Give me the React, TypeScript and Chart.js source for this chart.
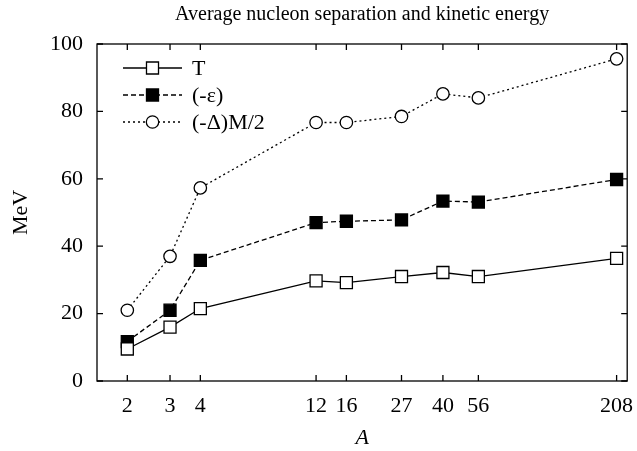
import React, { useEffect, useRef } from "react";
import { Chart, registerables } from "chart.js";

Chart.register(...registerables);

const massNumbers = [2, 3, 4, 12, 16, 27, 40, 56, 208];
const kineticT = [9.5, 16, 21.5, 29.7, 29.2, 31.0, 32.2, 31.0, 36.4];
const separationEps = [11.7, 21, 35.8, 47.0, 47.4, 47.8, 53.4, 53.1, 59.8];
const halfDeltaM = [21, 37, 57.3, 76.7, 76.7, 78.5, 85.2, 84.0, 95.6];
const xTickValues = [2, 3, 4, 12, 16, 27, 40, 56, 208];
const yTickValues = [0, 20, 40, 60, 80, 100];
const seriesLabels = ["T", "(-\u03b5)", "(-\u0394)M/2"];

const FONT = "'Liberation Serif', 'Times New Roman', serif";

const framePlugin = {
  id: "frameTicks",
  afterDraw(chart: any) {
    const { ctx, chartArea } = chart;
    const { left, right, top, bottom } = chartArea;
    const xs = chart.scales.x;
    const ys = chart.scales.y;
    ctx.save();
    ctx.strokeStyle = "#000";
    ctx.lineWidth = 1.3;
    ctx.setLineDash([]);
    ctx.strokeRect(left, top, right - left, bottom - top);
    const tl = 6;
    ctx.beginPath();
    xTickValues.forEach((v) => {
      const px = xs.getPixelForValue(v);
      ctx.moveTo(px, bottom);
      ctx.lineTo(px, bottom - tl);
      ctx.moveTo(px, top);
      ctx.lineTo(px, top + tl);
    });
    yTickValues.forEach((v) => {
      const py = ys.getPixelForValue(v);
      ctx.moveTo(left, py);
      ctx.lineTo(left + tl, py);
      ctx.moveTo(right, py);
      ctx.lineTo(right - tl, py);
    });
    ctx.stroke();
    ctx.restore();
  },
};

const legendPlugin = {
  id: "lineLegend",
  afterDatasetsDraw(chart: any) {
    const { ctx, chartArea } = chart;
    ctx.save();
    chart.data.datasets.forEach((ds: any, i: number) => {
      const y = chartArea.top + 24 + i * 27;
      const x0 = chartArea.left + 26;
      const x1 = chartArea.left + 85;
      const xm = (x0 + x1) / 2;
      ctx.strokeStyle = "#000";
      ctx.lineWidth = ds.borderWidth;
      ctx.setLineDash(ds.borderDash || []);
      ctx.beginPath();
      ctx.moveTo(x0, y);
      ctx.lineTo(x1, y);
      ctx.stroke();
      ctx.setLineDash([]);
      ctx.fillStyle = ds.pointBackgroundColor;
      ctx.lineWidth = ds.pointBorderWidth;
      ctx.beginPath();
      if (ds.pointStyle === "circle") {
        ctx.arc(xm, y, ds.pointRadius, 0, Math.PI * 2);
      } else {
        const s = ds.pointRadius * Math.SQRT1_2;
        ctx.rect(xm - s, y - s, 2 * s, 2 * s);
      }
      ctx.fill();
      ctx.stroke();
      ctx.fillStyle = "#000";
      ctx.font = `22px ${FONT}`;
      ctx.textBaseline = "middle";
      ctx.textAlign = "left";
      ctx.fillText(ds.label, x1 + 10, y + 1);
    });
    ctx.restore();
  },
};

export default function App() {
  const ref = useRef<HTMLCanvasElement>(null);
  useEffect(() => {
    if (!ref.current) return;
    const mk = (vals: number[]) => massNumbers.map((a, i) => ({ x: a, y: vals[i] }));
    const chart = new Chart(ref.current, {
      type: "line",
      data: {
        datasets: [
          {
            label: seriesLabels[0],
            data: mk(kineticT),
            borderColor: "#000",
            borderWidth: 1.3,
            pointStyle: "rect",
            pointRadius: 8.5,
            pointBackgroundColor: "#fff",
            pointBorderColor: "#000",
            pointBorderWidth: 1.3,
          },
          {
            label: seriesLabels[1],
            data: mk(separationEps),
            borderColor: "#000",
            borderWidth: 1.3,
            borderDash: [5, 3],
            pointStyle: "rect",
            pointRadius: 8.5,
            pointBackgroundColor: "#000",
            pointBorderColor: "#000",
            pointBorderWidth: 1.3,
          },
          {
            label: seriesLabels[2],
            data: mk(halfDeltaM),
            borderColor: "#000",
            borderWidth: 1.3,
            borderDash: [2, 3],
            pointStyle: "circle",
            pointRadius: 6.2,
            pointBackgroundColor: "#fff",
            pointBorderColor: "#000",
            pointBorderWidth: 1.3,
          },
        ] as any,
      },
      options: {
        animation: false,
        responsive: false,
        layout: { padding: { left: 0, right: 6, top: 0, bottom: 0 } },
        plugins: {
          legend: { display: false },
          tooltip: { enabled: false },
          title: {
            display: true,
            fullSize: false,
            text: "Average nucleon separation and kinetic energy",
            color: "#000",
            font: { family: FONT, size: 20, weight: "normal" },
            padding: { top: 3, bottom: 17 },
          },
        },
        scales: {
          x: {
            type: "logarithmic",
            min: 1.5,
            max: 230,
            afterBuildTicks: (s: any) => {
              s.ticks = xTickValues.map((v) => ({ value: v }));
            },
            afterFit: (s: any) => {
              s.height = 70;
              s.paddingLeft = 0;
              s.paddingRight = 0;
            },
            grid: { display: false, drawTicks: false },
            border: { display: false },
            ticks: {
              color: "#000",
              font: { family: FONT, size: 22 },
              padding: 12,
              autoSkip: false,
              maxRotation: 0,
              callback: (v: any) => String(v),
            },
            title: {
              display: true,
              text: "A",
              color: "#000",
              font: { family: FONT, size: 22, style: "italic" },
              padding: { top: 0, bottom: 0 },
            },
          },
          y: {
            min: 0,
            max: 100,
            afterBuildTicks: (s: any) => {
              s.ticks = yTickValues.map((v) => ({ value: v }));
            },
            afterFit: (s: any) => {
              s.width = 97;
              s.paddingTop = 0;
              s.paddingBottom = 0;
            },
            grid: { display: false, drawTicks: false },
            border: { display: false },
            ticks: {
              color: "#000",
              font: { family: FONT, size: 22 },
              padding: 14,
            },
            title: {
              display: true,
              text: "MeV",
              color: "#000",
              font: { family: FONT, size: 22 },
              padding: { top: 8, bottom: 0 },
            },
          },
        },
      },
      plugins: [framePlugin, legendPlugin],
    });
    return () => chart.destroy();
  }, []);
  return (
    <div style={{ position: "absolute", left: 0, top: 0, width: 637, height: 451, background: "#fff" }}>
      <canvas ref={ref} width={637} height={451} />
    </div>
  );
}
